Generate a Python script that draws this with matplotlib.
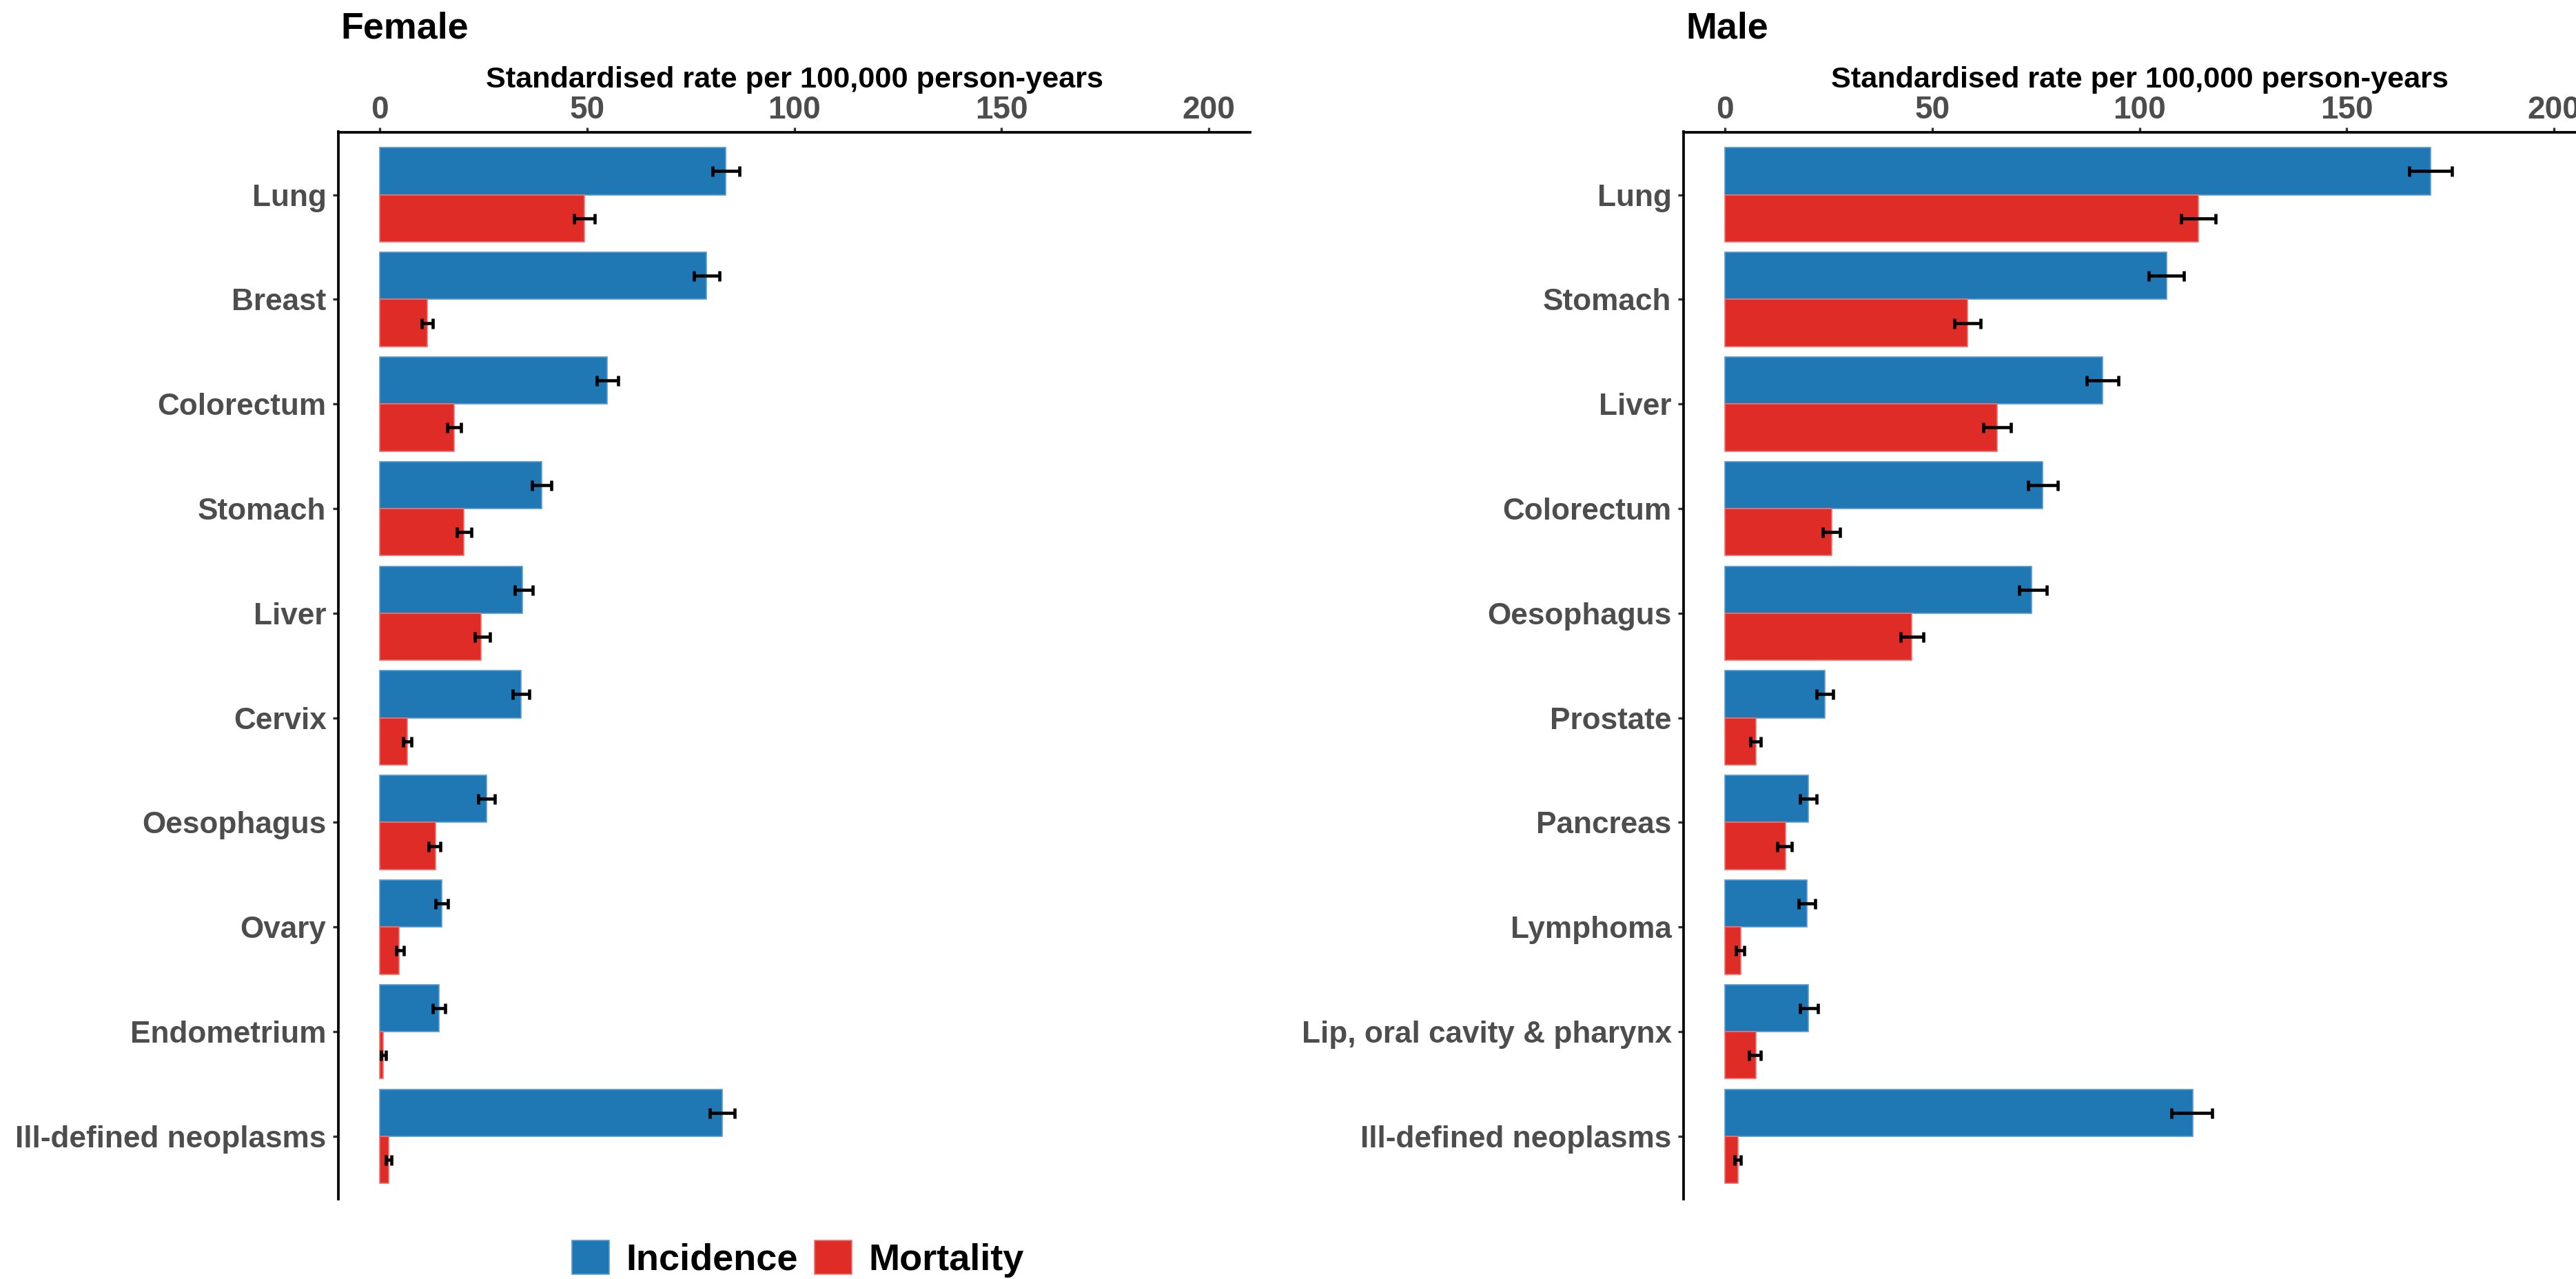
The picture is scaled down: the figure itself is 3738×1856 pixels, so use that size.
import numpy as np
import matplotlib.pyplot as plt
from matplotlib.patches import Patch

plt.rcParams['font.family'] = ['Liberation Sans', 'DejaVu Sans']
plt.rcParams['font.weight'] = 'bold'

# age-standardised rates per 100,000 with 95% CI bounds, top row first
female_sites = ["Lung", "Breast", "Colorectum", "Stomach", "Liver", "Cervix",
                "Oesophagus", "Ovary", "Endometrium", "Ill-defined neoplasms"]
female_inc = [83.5, 78.8, 54.9, 39.0, 34.4, 34.0, 25.7, 14.9, 14.3, 82.6]
female_inc_lo = [80.3, 75.8, 52.3, 36.7, 32.5, 32.0, 23.7, 13.4, 12.8, 79.6]
female_inc_hi = [86.8, 82.0, 57.5, 41.4, 36.9, 36.0, 27.7, 16.4, 15.8, 85.6]
female_mort = [49.3, 11.4, 18.0, 20.3, 24.5, 6.7, 13.4, 4.7, 0.8, 2.1]
female_mort_lo = [46.8, 10.1, 16.3, 18.6, 23.0, 5.6, 11.8, 3.9, 0.3, 1.4]
female_mort_hi = [51.8, 12.7, 19.6, 22.1, 26.6, 7.6, 14.6, 5.8, 1.4, 2.8]

male_sites = ["Lung", "Stomach", "Liver", "Colorectum", "Oesophagus", "Prostate",
              "Pancreas", "Lymphoma", "Lip, oral cavity & pharynx", "Ill-defined neoplasms"]
male_inc = [170.2, 106.5, 91.1, 76.6, 74.0, 24.1, 20.1, 19.7, 20.1, 112.9]
male_inc_lo = [165.1, 102.3, 87.2, 73.2, 70.9, 22.1, 18.1, 17.7, 18.1, 107.7]
male_inc_hi = [175.4, 110.7, 95.0, 80.3, 77.6, 26.1, 22.1, 21.7, 22.5, 117.6]
male_mort = [114.2, 58.5, 65.6, 25.7, 45.1, 7.4, 14.6, 3.8, 7.4, 3.1]
male_mort_lo = [110.1, 55.4, 62.4, 23.6, 42.3, 6.2, 12.6, 2.6, 5.8, 2.3]
male_mort_hi = [118.4, 61.6, 69.0, 27.8, 47.9, 8.6, 16.1, 4.6, 8.6, 3.8]

x_ticks = [0, 50, 100, 150, 200]

BLUE = '#1F78B4'
RED = '#DF2C27'
W, H = 3738, 1856


def draw_panel(ax, title, sites, inc, inc_lo, inc_hi, mort, mort_lo, mort_hi):
    y = np.arange(len(sites))
    h = 0.45
    inc, mort = np.array(inc), np.array(mort)
    ax.barh(y - h / 2, inc, height=h, color=BLUE, edgecolor='#5A9BD0', linewidth=0.4)
    ax.barh(y + h / 2, mort, height=h, color=RED, edgecolor='#EE7370', linewidth=0.4)
    ax.errorbar(inc, y - h / 2, xerr=[inc - np.array(inc_lo), np.array(inc_hi) - inc],
                fmt='none', ecolor='black', elinewidth=1.1, capsize=1.8, capthick=1.1)
    ax.errorbar(mort, y + h / 2, xerr=[mort - np.array(mort_lo), np.array(mort_hi) - mort],
                fmt='none', ecolor='black', elinewidth=1.1, capsize=1.8, capthick=1.1)

    ax.set_xlim(-10, 210)
    ax.set_ylim(len(sites) - 0.4, -0.6)
    ax.set_yticks(y)
    ax.set_yticklabels(sites)
    ax.set_xticks(x_ticks)
    ax.xaxis.tick_top()
    ax.xaxis.set_label_position('top')
    ax.set_xlabel("Standardised rate per 100,000 person-years", fontsize=10.4,
                  fontweight='bold', color='black', labelpad=2.6)

    for side in ['right', 'bottom']:
        ax.spines[side].set_visible(False)
    for side in ['left', 'top']:
        ax.spines[side].set_linewidth(0.9)
        ax.spines[side].set_color('black')
    ax.tick_params(axis='x', length=1.7, width=0.8, color='#333333', pad=0.5,
                   labelsize=11, labelcolor='#4D4D4D')
    ax.tick_params(axis='y', length=2.0, width=0.8, color='#333333', pad=2.2,
                   labelsize=10.6, labelcolor='#4D4D4D')
    for lab in ax.get_xticklabels() + ax.get_yticklabels():
        lab.set_fontweight('bold')

    pos = ax.get_position()
    ax.figure.text(pos.x0 + 3 / W, 1 - 55 / H, title, fontsize=12.9,
                   fontweight='bold', color='black', ha='left', va='baseline')


fig = plt.figure(figsize=(W / 300, H / 300), dpi=300)
ax_f = fig.add_axes([491 / W, 1 - 1740 / H, 1323 / W, 1548.5 / H])
ax_m = fig.add_axes([2443 / W, 1 - 1740 / H, 1323 / W, 1548.5 / H])

draw_panel(ax_f, "Female", female_sites, female_inc, female_inc_lo, female_inc_hi,
           female_mort, female_mort_lo, female_mort_hi)
draw_panel(ax_m, "Male", male_sites, male_inc, male_inc_lo, male_inc_hi,
           male_mort, male_mort_lo, male_mort_hi)

handles = [Patch(facecolor=BLUE, edgecolor='#5A9BD0', linewidth=0.4, label='Incidence'),
           Patch(facecolor=RED, edgecolor='#EE7370', linewidth=0.4, label='Mortality')]
fig.legend(handles=handles, loc='center', bbox_to_anchor=(1158 / W, 1 - 1827 / H),
           ncol=2, frameon=False, handlelength=1.0, handleheight=1.0,
           handletextpad=0.45, columnspacing=0.45, borderpad=0, borderaxespad=0,
           prop={'weight': 'bold', 'size': 13})

fig.savefig('out.png', dpi=300)
